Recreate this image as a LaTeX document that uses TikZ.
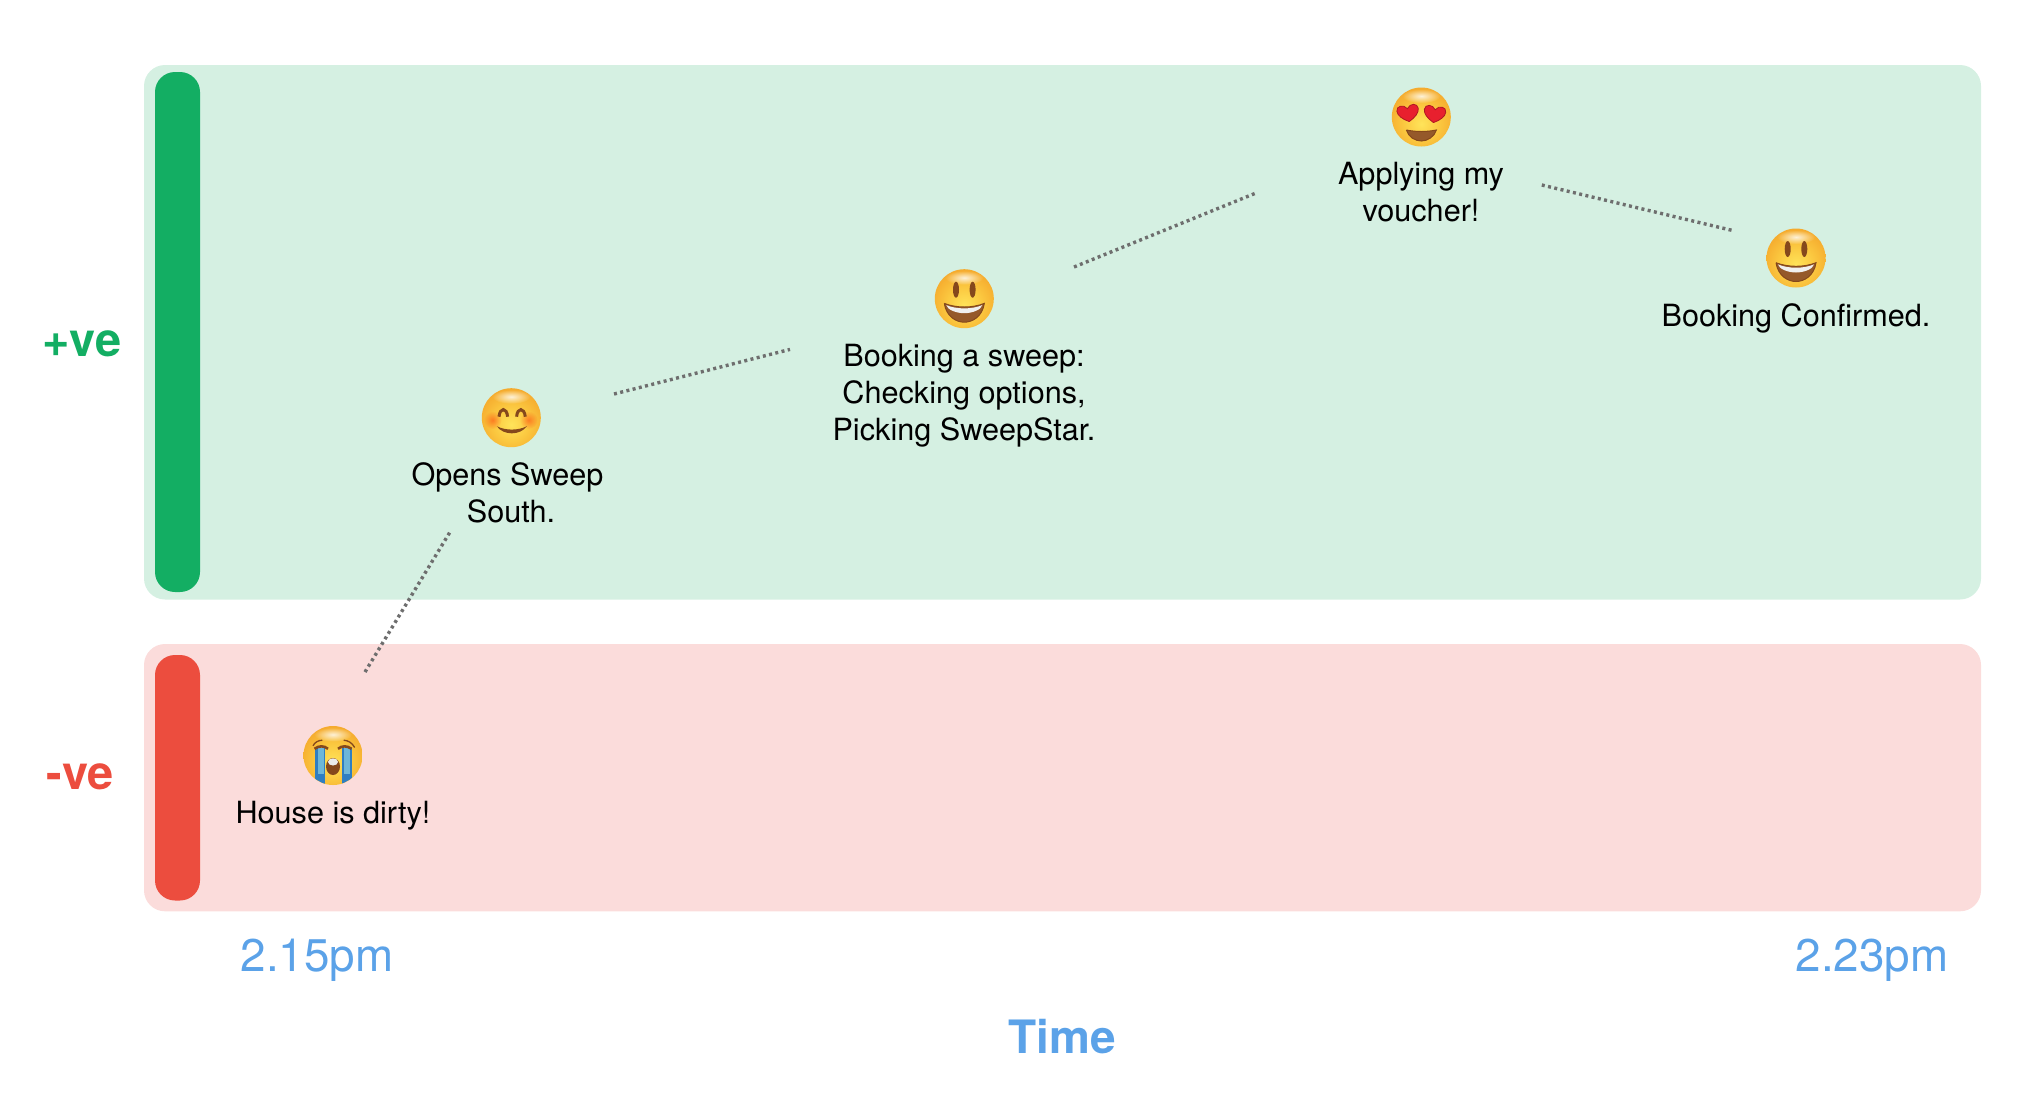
\documentclass[tikz,border=0pt]{standalone}
\usepackage{fontspec}
\setmainfont{TeX Gyre Heros}
\usetikzlibrary{shadings,fadings}
\tikzfading[name=softout, inner color=transparent!0, outer color=transparent!100]
\definecolor{greenbg}{HTML}{D5F0E2}
\definecolor{greenbar}{HTML}{13AE63}
\definecolor{redbg}{HTML}{FBDCDB}
\definecolor{redbar}{HTML}{EC4D3E}
\definecolor{timeblue}{HTML}{5BA2E8}
\definecolor{dotgrey}{HTML}{6E6E6E}
\definecolor{mouthbrown}{HTML}{95592A}
\definecolor{eyebrown}{HTML}{85481C}
\definecolor{heartred}{HTML}{E8202E}
\definecolor{tearblue}{HTML}{2F7EC2}
\definecolor{tearlight}{HTML}{6DB6D8}
\definecolor{faceA}{HTML}{FFE45A}
\definecolor{faceB}{HTML}{FBC840}
\definecolor{faceC}{HTML}{F4A52A}
\definecolor{faceD}{HTML}{E4851B}
\pgfdeclareradialshading{emojiface}{\pgfpoint{0bp}{-6bp}}{%
  color(0bp)=(faceA);
  color(15bp)=(faceB);
  color(32bp)=(faceC);
  color(50bp)=(faceD);
  color(100bp)=(faceD)}
\tikzset{
  panel/.style={rounded corners=21pt,draw=none},
  sidebar/.style={rounded corners=20pt,draw=none},
  lab/.style={anchor=base,align=center,text=black,font=\fontsize{30.6}{37}\selectfont,inner sep=0pt},
  axislab/.style={anchor=base,inner sep=0pt,text=timeblue,font=\fontsize{45.8}{50}\selectfont},
  sidelab/.style={anchor=base,inner sep=0pt,font=\bfseries\fontsize{47}{50}\selectfont},
  journey/.style={dotgrey,line width=3.4pt,dash pattern=on 3pt off 3.4pt},
  facebase/.pic={
    \shade[shading=emojiface] (0,0) circle (29.5);
    \fill[white,opacity=.8,path fading=softout] (0,-21) ellipse (19 and 7);
  },
  pics/grin/.style={code={
    \pic {facebase};
    \fill[eyebrown] (-8.3,-9) ellipse (3 and 8);
    \fill[eyebrown] (8.3,-9) ellipse (3 and 8);
    \fill[mouthbrown,draw=eyebrown,line width=1pt] (-20,4.7) .. controls (-8,9.5) and (8,9.5) .. (20,4.7)
      .. controls (18,18) and (8,23.5) .. (0,23.5) .. controls (-8,23.5) and (-18,18) .. (-20,4.7);
    \fill[white!94!black] (-18,6.4) .. controls (-8,10.8) and (8,10.8) .. (18,6.4)
      .. controls (17,11) and (8,14.5) .. (0,14.5) .. controls (-8,14.5) and (-17,11) .. (-18,6.4);
  }},
  pics/hearteyes/.style={code={
    \pic {facebase};
    \foreach \hx/\hy/\hr in {-13.3/-4/8, 13.3/-3/-8}{
      \fill[heartred,draw=heartred!75!black,line width=.8pt,shift={(\hx,\hy)},rotate=\hr,scale=1.08]
        (0,8) .. controls (-6,5) and (-10,1) .. (-10,-3) .. controls (-10,-8) and (-3,-9) .. (0,-4)
        .. controls (3,-9) and (10,-8) .. (10,-3) .. controls (10,1) and (6,5) .. (0,8);
    }
    \fill[mouthbrown,draw=eyebrown,line width=1pt] (-15,13) .. controls (-5,15) and (5,15) .. (15,13)
      .. controls (13,20) and (6,24) .. (0,24) .. controls (-6,24) and (-13,20) .. (-15,13);
  }},
  pics/blush/.style={code={
    \pic {facebase};
    \fill[red!70!orange,opacity=.45,path fading=softout] (-18.7,2.3) circle (9);
    \fill[red!70!orange,opacity=.45,path fading=softout] (17.3,2.3) circle (9);
    \draw[eyebrown,line width=3pt] (-12.3,-1) .. controls (-11.5,-10.5) and (-4.5,-10.5) .. (-3.7,-1);
    \draw[eyebrown,line width=3pt] (5.3,-1) .. controls (6,-10.5) and (13,-10.5) .. (14,-1);
    \fill[eyebrown] (-14.5,8.5) .. controls (-6,13) and (7,13) .. (15.5,8.5)
      .. controls (9,18) and (-8,18) .. (-14.5,8.5);
  }},
  pics/crying/.style={code={
    \pic {facebase};
    \begin{scope}
      \clip (0,0) circle (29.3);
      \fill[tearblue] (-17.7,-7.3) rectangle (-7.7,30);
      \fill[tearblue] (9.3,-7.3) rectangle (18.5,30);
      \fill[tearlight] (-15.5,-7.3) rectangle (-9.5,18);
      \fill[tearlight] (11.3,-7.3) rectangle (16.5,18);
    \end{scope}
    \draw[eyebrown,line width=2.6pt] (-18.5,-6.7) .. controls (-14,-10) and (-9,-10) .. (-5,-6.7);
    \draw[eyebrown,line width=2.6pt] (5,-6.7) .. controls (9,-10) and (14,-10) .. (18.5,-6.7);
    \draw[eyebrown,line width=1.3pt] (-20,-9.7) .. controls (-18,-13.5) and (-15,-15) .. (-10.7,-15.3);
    \draw[eyebrown,line width=1.3pt] (21.7,-8) .. controls (19,-13) and (15,-15) .. (10.7,-15.3);
    \fill[eyebrown] (0,11) ellipse (7 and 8.5);
    \fill[white!92!black] (0,6.4) ellipse (5 and 3.6);
  }}
}
\begin{document}
\begin{tikzpicture}[x=1pt,y=-1pt]
  \useasboundingbox (0,0) rectangle (2044,1104);
  % panels
  \fill[panel,greenbg] (144,65) rectangle (1981,599.5);
  \fill[panel,redbg] (144,644) rectangle (1981,911.3);
  \fill[sidebar,greenbar] (155,72) rectangle (200,592);
  \fill[sidebar,redbar] (155,655) rectangle (200,900.5);
  % axis labels
  \node[sidelab,text=greenbar] (pos) at (82,356) {+ve};
  \node[sidelab,text=redbar] (neg) at (80,789) {-ve};
  \node[axislab] (start) at (317,971.5) {2.15pm};
  \node[axislab] (end) at (1872,971.5) {2.23pm};
  \node[axislab,font=\bfseries\fontsize{46}{50}\selectfont] (time) at (1062,1053) {Time};
  % emoji faces
  \pic (cryface) at (333,755.5) {crying};
  \pic (blushface) at (511.3,417.7) {blush};
  \pic (grinface) at (964.3,298.7) {grin};
  \pic (heartface) at (1421.3,117) {hearteyes};
  \pic (confirmface) at (1796,258) {grin};
  % labels
  \node[lab] (dirty) at (333,823) {House is dirty!};
  \node[lab] (opens) at (511,522) {Opens Sweep\kern7pt\\South.};
  \node[lab] (sweep) at (964,440.5) {Booking a sweep:\\Checking options,\\Picking SweepStar.};
  \node[lab] (voucher) at (1421,221.8) {Applying my\\voucher!};
  \node[lab] (confirmed) at (1796,326) {Booking Confirmed.};
  % connectors
  \coordinate (a1) at (365,672); \coordinate (a2) at (450,532);
  \coordinate (b1) at (614,394); \coordinate (b2) at (790,349.4);
  \coordinate (c1) at (1074,267); \coordinate (c2) at (1256,193);
  \coordinate (d1) at (1541.8,185); \coordinate (d2) at (1733.5,230.7);
  \draw[journey] (a1) -- (a2);
  \draw[journey] (b1) -- (b2);
  \draw[journey] (c1) -- (c2);
  \draw[journey] (d1) -- (d2);
\end{tikzpicture}
\end{document}
